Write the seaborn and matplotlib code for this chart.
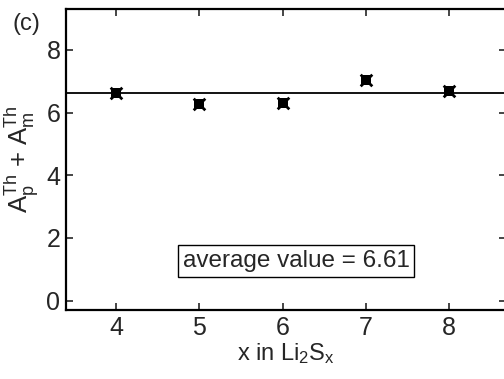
import matplotlib
matplotlib.use("Agg")
import matplotlib.pyplot as plt
import seaborn as sns
import pandas as pd

# sulfur content x in Li2Sx and the summed thermodynamic areas
x_vals = [4, 5, 6, 7, 8]
area_sum = [6.62, 6.28, 6.32, 7.05, 6.70]
average_value = 6.61

x_ticks = [4, 5, 6, 7, 8]
y_ticks = [0, 2, 4, 6, 8]

sns.set_style("ticks")
plt.rcParams["font.family"] = ["Liberation Sans", "DejaVu Sans"]
plt.rcParams["mathtext.fontset"] = "custom"
plt.rcParams["mathtext.rm"] = "Liberation Sans"
plt.rcParams["mathtext.it"] = "Liberation Sans"

df = pd.DataFrame({"x": x_vals, "A": area_sum})

fig = plt.figure(figsize=(5.04, 3.79), dpi=100)
ax = fig.add_axes([0.131, 0.182, 0.873, 0.794])

# average level across the full width
ax.axhline(average_value, color="black", lw=1.3, zorder=2)

# markers: filled square overlaid with a bold cross
sns.scatterplot(data=df, x="x", y="A", ax=ax, marker="s", s=42,
                color="black", edgecolor="black", linewidth=0, zorder=3)
sns.scatterplot(data=df, x="x", y="A", ax=ax, marker="x", s=70,
                color="black", linewidth=2.0, zorder=3)

ax.set_xlim(3.4, 8.68)
ax.set_ylim(-0.3, 9.3)
ax.set_xticks(x_ticks)
ax.set_yticks(y_ticks)

ax.tick_params(direction="in", length=5, width=1.2, labelsize=18,
               top=True, right=True, pad=4)
for sp in ax.spines.values():
    sp.set_linewidth(1.6)
    sp.set_color("black")

ax.set_xlabel(r"x in Li$_2$S$_x$", fontsize=17, labelpad=1)
ax.set_ylabel(r"A$_\mathregular{p}^{\mathregular{Th}}$ + A$_\mathregular{m}^{\mathregular{Th}}$",
              fontsize=18.5, labelpad=4)

ax.text(6.16, 1.27, f"average value = {average_value:.2f}", fontsize=17.5,
        ha="center", va="center",
        bbox=dict(boxstyle="square,pad=0.2", fc="white", ec="black", lw=1.0))

fig.text(0.025, 0.966, "(c)", fontsize=17, ha="left", va="top")

fig.savefig("out.png", dpi=100)
